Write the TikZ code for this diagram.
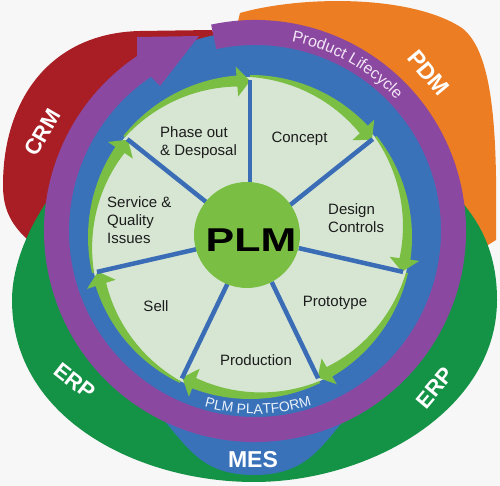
\documentclass[tikz,border=0pt]{standalone}
\usepackage{fontspec}
\setmainfont{Liberation Sans}
\usetikzlibrary{decorations.text}
\definecolor{crmred}{HTML}{A81E24}
\definecolor{pdmorange}{HTML}{ED7D23}
\definecolor{erpgreen}{HTML}{149246}
\definecolor{ringpurple}{HTML}{8A48A0}
\definecolor{ringblue}{HTML}{3A72BA}
\definecolor{pale}{HTML}{D6E6D3}
\definecolor{leaf}{HTML}{7ABE43}
\definecolor{spokeblue}{HTML}{3A6DB5}
\definecolor{bgc}{HTML}{F7F7F7}
\definecolor{inktext}{HTML}{1C1C1C}
\definecolor{lilac}{HTML}{F2E6F6}
\definecolor{iceblue}{HTML}{EAF1FA}
\begin{document}
\begin{tikzpicture}[x=1pt,y=1pt,
  outerlbl/.style={text=white,font=\fontsize{22}{22}\selectfont\bfseries,inner sep=0},
  stage/.style={text=inktext,font=\fontsize{15}{18}\selectfont,inner sep=0,align=left},
  spoke/.style={draw=spokeblue,line width=4.5pt},
]
\useasboundingbox (0,0) rectangle (500,486);
\fill[bgc] (0,0) rectangle (500,486);
% CRM red
\fill[crmred] (70,236) -- (28,246) .. controls (8,264) and (3,281) .. (3,301)
  .. controls (3,386) and (50,453) .. (140,455) -- (212,456) -- (230,416) -- (200,286) -- cycle;
% PDM orange
\fill[pdmorange] (236,456) -- (240,473) .. controls (300,490) and (410,492) .. (462,458)
  .. controls (496,432) and (497,340) .. (496,246) -- (400,186) -- (300,286) -- cycle;
% ERP green
\fill[erpgreen] (55,296) .. controls (25,256) and (12,216) .. (12,186)
  .. controls (12,66) and (140,4) .. (254,4)
  .. controls (370,4) and (497,76) .. (497,186)
  .. controls (497,226) and (485,258) .. (460,286) -- (254,236) -- cycle;
% MES blue
\fill[ringblue] (150,81) .. controls (185,46) and (195,11) .. (254,11)
  .. controls (313,11) and (323,46) .. (358,81) -- (254,186) -- cycle;
% blue ring (PLM platform)
\fill[ringblue] (255,255) circle[radius=200];
% purple ring with arrow
\begin{scope}[shift={(255,255)}]
\fill[ringpurple] (102:211) arc[start angle=102,end angle=-236,radius=211]
  -- (-118,194) -- (-56,195) -- (-95,145) -- (-236:186)
  arc[start angle=-236,end angle=102,radius=186] -- cycle;
\path[decorate,decoration={text along path,text align=center,text color=lilac,
  text={|\fontsize{16}{16}\selectfont|Product Lifecycle}}]
  (96:193) arc[start angle=96,end angle=26,radius=193];
\path[decorate,decoration={text along path,text align=center,text color=iceblue,
  text={|\fontsize{14}{14}\selectfont|PLM PLATFORM}}]
  (-125:183) arc[start angle=-125,end angle=-53,radius=183];
\end{scope}
% pale pie
\fill[pale] (250,249) circle[radius=160];
\begin{scope}[shift={(250,249)}]
\foreach \k in {0,...,6}{
  \pgfmathsetmacro\as{90-\k*360/7}
  \pgfmathsetmacro\ae{90-(\k+1)*360/7}
  \pgfmathsetmacro\ab{\ae+4.8}
  \fill[leaf] (\as:162) arc[start angle=\as,end angle=\ab,radius=162]
    -- (\ab:171) -- (\ae:156) -- (\ab:141) -- (\ab:151)
    -- plot[domain=\ab:\as,samples=24] (\x:{151+9*(\x-(\ab))/((\as)-(\ab))}) -- cycle;
}
\foreach \k in {0,...,6}{
  \draw[spoke] ({90-\k*360/7}:50) -- ({90-\k*360/7}:157);
}
\end{scope}
% center
\fill[leaf] (247,251) circle[radius=53];
\node[font=\fontsize{33}{33}\selectfont\bfseries,xscale=1.3,inner sep=0,text=black] (plm) at (251,246) {PLM};
% stage labels
\node[stage,anchor=west] (phase) at (160,343) {Phase out\\\& Desposal};
\node[stage] (concept) at (299.5,347) {Concept};
\node[stage,anchor=west] (design) at (328,268) {Design\\Controls};
\node[stage] (proto) at (335,183) {Prototype};
\node[stage] (prod) at (256,125.5) {Production};
\node[stage] (sell) at (156,180) {Sell};
\node[stage,anchor=west] (service) at (107,265.5) {Service \&\\Quality\\Issues};
% outer labels
\node[outerlbl,rotate=60] (crm) at (42.5,353.5) {CRM};
\node[outerlbl,rotate=-50,font=\fontsize{23}{23}\selectfont\bfseries] (pdm) at (428.5,413) {PDM};
\node[outerlbl,rotate=-38] (erpl) at (74.5,105) {ERP};
\node[outerlbl,rotate=50] (erpr) at (435,98) {ERP};
\node[outerlbl,font=\fontsize{23}{23}\selectfont\bfseries] (mes) at (253,26) {MES};
\end{tikzpicture}
\end{document}
